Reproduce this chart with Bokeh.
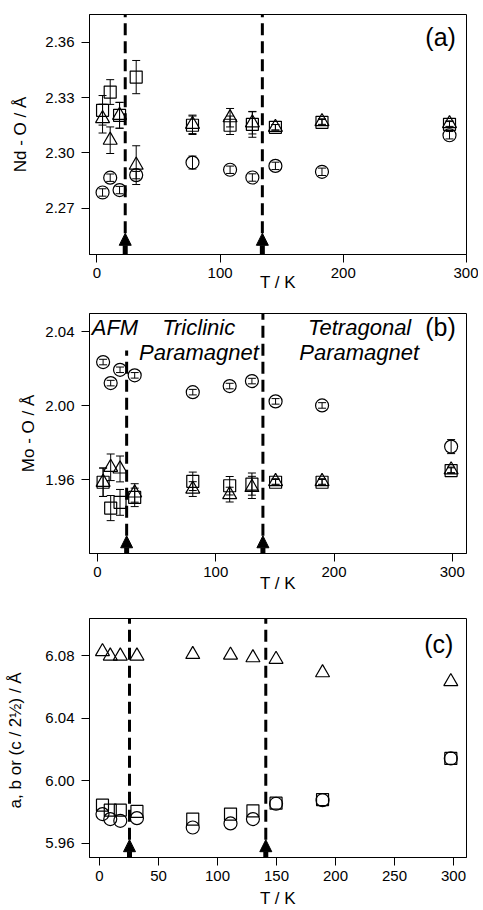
from bokeh.plotting import figure
from bokeh.models import (Range1d, FixedTicker, PrintfTickFormatter, Whisker, TeeHead,
                          ColumnDataSource, Arrow, NormalHead, Label)
from bokeh.layouts import column
from bokeh.embed import file_html
from bokeh.resources import INLINE

# ---------------- data ----------------
# panel (a): Nd-O distances
Ta = [4.6, 10.8, 18.4, 31.9, 77.6, 108.1, 126.2, 144.9, 182.7, 286.2]
a_circ = [2.2786, 2.2866, 2.2799, 2.2880, 2.2948, 2.2909, 2.2867, 2.2930, 2.2898, 2.3096]
a_circ_err = [0.002, 0.002, 0.002, 0.002, 0.0035, 0.002, 0.002, 0.002, 0.002, 0.002]
a_sq = [2.3231, 2.3330, 2.3204, 2.3411, 2.3150, 2.3150, 2.3155, 2.3139, 2.3166, 2.3155]
a_sq_err = [0.008, 0.0067, 0.007, 0.009, 0.005, 0.005, 0.007, 0.0015, 0.0015, 0.0015]
a_tri = [2.3186, 2.3069, 2.3204, 2.2934, 2.3155, 2.3191, 2.3163, 2.3139, 2.3170, 2.3159]
a_tri_err = [0.0078, 0.0072, 0.007, 0.0105, 0.005, 0.005, 0.006, 0.0015, 0.0015, 0.0015]
a_trans = [23.0, 134.3]

# panel (b): Mo-O distances
Tb = [4.8, 11.2, 19.1, 31.5, 80.6, 111.8, 130.6, 150.6, 189.9, 299.0]
b_circ = [2.0237, 2.0123, 2.0195, 2.0165, 2.0074, 2.0107, 2.0134, 2.0024, 2.0002, 1.9779]
b_circ_err = [0.0015, 0.0015, 0.0015, 0.0015, 0.0015, 0.0015, 0.0015, 0.0015, 0.0015, 0.0038]
b_sq = [1.9586, 1.9446, 1.9477, 1.9504, 1.9591, 1.9567, 1.9576, 1.9586, 1.9586, 1.9649]
b_sq_err = [0.0077, 0.0068, 0.007, 0.005, 0.005, 0.005, 0.006, 0.0015, 0.0015, 0.0015]
b_tri = [1.9586, 1.9667, 1.9658, 1.9528, 1.9549, 1.9519, 1.9558, 1.9590, 1.9590, 1.9653]
b_tri_err = [0.0077, 0.0072, 0.007, 0.005, 0.004, 0.004, 0.006, 0.0015, 0.0015, 0.0015]
b_trans = [24.7, 139.9]

# panel (c): lattice parameters
Tc = [2.5, 9.1, 17.6, 31.7, 79.0, 111.0, 130.0, 149.6, 189.0, 297.7]
c_tri = [6.0828, 6.0800, 6.0800, 6.0800, 6.0810, 6.0806, 6.0789, 6.0779, 6.0693, 6.0636]
c_sq = [5.9845, 5.9813, 5.9813, 5.9805, 5.9756, 5.9788, 5.9809, 5.9858, 5.9881, 6.0144]
c_circ = [5.9788, 5.9756, 5.9745, 5.9762, 5.9702, 5.9728, 5.9756, 5.9854, 5.9877, 6.0144]
c_trans = [25.4, 140.9]

ticks_a_x = [0, 100, 200, 300]
ticks_a_y = [2.27, 2.30, 2.33, 2.36]
ticks_b_x = [0, 100, 200, 300]
ticks_b_y = [1.96, 2.00, 2.04]
ticks_c_x = [0, 50, 100, 150, 200, 250, 300]
ticks_c_y = [5.96, 6.00, 6.04, 6.08]

FONT = "Liberation Sans"


def make_fig(xr, yr, xt, yt, ylabel, fh, btop, bbot, xstand, ystand):
    p = figure(frame_width=377, frame_height=fh, x_range=Range1d(*xr), y_range=Range1d(*yr),
               output_backend="svg", toolbar_location=None,
               min_border_left=89, min_border_right=12, min_border_top=btop,
               min_border_bottom=bbot)
    p.xgrid.visible = False
    p.ygrid.visible = False
    p.outline_line_color = "black"
    p.outline_line_width = 1
    p.background_fill_color = "white"
    p.border_fill_color = "white"
    for ax in (p.xaxis[0], p.yaxis[0]):
        ax.axis_line_color = "black"
        ax.major_tick_line_color = "black"
        ax.minor_tick_line_color = None
        ax.major_tick_in = 0
        ax.major_tick_out = 8
        ax.major_label_text_font = FONT
        ax.major_label_text_font_size = "15px"
        ax.major_label_text_color = "black"
        ax.axis_label_text_font = FONT
        ax.axis_label_text_font_size = "17px"
        ax.axis_label_text_font_style = "normal"
        ax.axis_label_text_color = "black"
    p.yaxis.major_label_standoff = 7
    p.xaxis.ticker = FixedTicker(ticks=xt)
    p.yaxis.ticker = FixedTicker(ticks=yt)
    p.yaxis.formatter = PrintfTickFormatter(format="%.2f")
    p.xaxis.axis_label = "T / K"
    p.yaxis.axis_label = ylabel
    p.xaxis.axis_label_standoff = xstand
    p.yaxis.axis_label_standoff = ystand
    return p


def add_series(p, T, vals, errs, marker, size):
    if errs is not None:
        src = ColumnDataSource(dict(x=T, lo=[v - e for v, e in zip(vals, errs)],
                                    hi=[v + e for v, e in zip(vals, errs)]))
        w = Whisker(source=src, base="x", lower="lo", upper="hi", dimension="height",
                    line_color="black", line_width=1,
                    upper_head=TeeHead(size=8, line_color="black", line_width=1),
                    lower_head=TeeHead(size=8, line_color="black", line_width=1))
        p.add_layout(w)
    p.scatter(T, vals, marker=marker, size=size, fill_color=None,
              line_color="black", line_width=1.2)


def add_transitions(p, trans, tip, tops):
    for t, top in zip(trans, tops):
        p.segment(x0=[t], y0=[tip], x1=[t], y1=[top], line_color="black",
                  line_width=3, line_dash="12 6")
        p.add_layout(Arrow(x_start=t, y_start=p.y_range.start, x_end=t, y_end=tip,
                           line_color="black", line_width=5,
                           end=NormalHead(size=12, fill_color="black", line_color="black")))


# ---------- panel (a) ----------
pa = make_fig((-6, 300), (2.245, 2.375), ticks_a_x, ticks_a_y, "Nd - O / Å",
              240, 14, 41, -8, 12)
add_transitions(pa, a_trans, 2.2565, [2.375, 2.375])
add_series(pa, Ta, a_circ, a_circ_err, "circle", 13)
add_series(pa, Ta, a_sq, a_sq_err, "square", 12)
add_series(pa, Ta, a_tri, a_tri_err, "triangle", 14)
pa.add_layout(Label(x=279, y=2.3627, text="(a)", text_font=FONT, text_font_size="25px",
                    text_align="center", text_baseline="middle", text_color="black"))

# ---------- panel (b) ----------
pb = make_fig((-6.7, 312), (1.920, 2.050), ticks_b_x, ticks_b_y, "Mo - O / Å",
              240, 18, 47, -6, 4)
add_transitions(pb, b_trans, 1.9296, [2.030, 2.050])
add_series(pb, Tb, b_circ, b_circ_err, "circle", 13)
add_series(pb, Tb, b_sq, b_sq_err, "square", 12)
add_series(pb, Tb, b_tri, b_tri_err, "triangle", 14)
for txt, x, y, al in [("AFM", -4.8, 2.0426, "left"),
                      ("Triclinic", 85.6, 2.0426, "center"),
                      ("Paramagnet", 85.8, 2.0290, "center"),
                      ("Tetragonal", 221.7, 2.0426, "center"),
                      ("Paramagnet", 221.3, 2.0290, "center")]:
    pb.add_layout(Label(x=x, y=y, text=txt, text_font=FONT, text_font_size="22px",
                        text_font_style="italic", text_align=al, text_baseline="middle",
                        text_color="black"))
pb.add_layout(Label(x=290, y=2.0426, text="(b)", text_font=FONT, text_font_size="25px",
                    text_align="center", text_baseline="middle", text_color="black"))

# ---------- panel (c) ----------
pc = make_fig((-8.5, 311), (5.951, 6.104), ticks_c_x, ticks_c_y, "a, b or (c / 2½)  / Å",
              239, 18, 52, 5, 17)
add_transitions(pc, c_trans, 5.9624, [6.104, 6.104])
add_series(pc, Tc, c_circ, None, "circle", 13)
add_series(pc, Tc, c_sq, None, "square", 12)
add_series(pc, Tc, c_tri, None, "triangle", 14)
pc.add_layout(Label(x=287.5, y=6.0877, text="(c)", text_font=FONT, text_font_size="25px",
                    text_align="center", text_baseline="middle", text_color="black"))

layout = column(pa, pb, pc, spacing=0)
open("out.html", "w").write(file_html(layout, INLINE))
